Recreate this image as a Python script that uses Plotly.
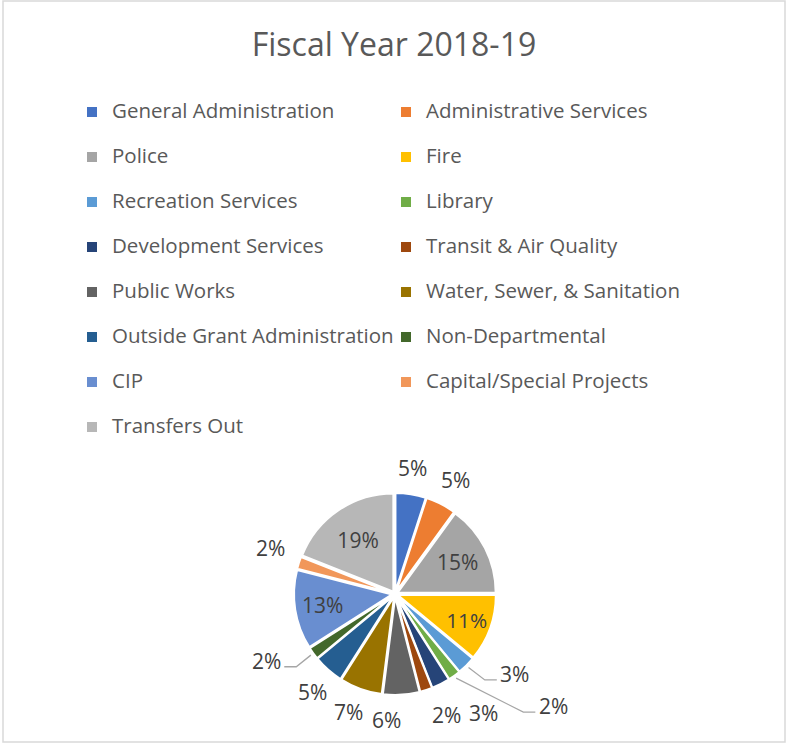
import math
import plotly.graph_objects as go

# Fiscal Year 2018-19 budget shares by department (percent)
departments = [
    "General Administration", "Administrative Services", "Police", "Fire",
    "Recreation Services", "Library", "Development Services",
    "Transit & Air Quality", "Public Works", "Water, Sewer, & Sanitation",
    "Outside Grant Administration", "Non-Departmental", "CIP",
    "Capital/Special Projects", "Transfers Out",
]
shares = [5, 5, 15, 11, 3, 2, 3, 2, 6, 7, 5, 2, 13, 2, 19]
colors = [
    "#4472C4", "#ED7D31", "#A5A5A5", "#FFC000", "#5B9BD5", "#70AD47",
    "#264478", "#9E480E", "#636363", "#997300", "#255E91", "#43682B",
    "#698ED0", "#F1975A", "#B7B7B7",
]

# placement of the outside labels: angular shift from the slice middle (deg),
# distance from the pie centre (px), and whether a leader line is drawn
label_shift = [-1.3, 1.2, 0, 0, -11.3, -18.7, -9.5, -5.0, 7.5, 1.5, -1.4, 8.6, 0, 2.2, 0]
label_dist = [127, 129, 0, 0, 144, 194, 148, 131, 126, 127, 128, 145, 0, 133, 0]
leader = [False, False, False, False, True, True, False, False,
          False, False, False, True, False, False, False]

W, H = 788, 744
cx, cy = 395, 594          # pie centre, px from top-left
pull = 0.03
r_dom = 101                # radius of the pie domain, px
r = r_dom / (1 + pull)

inside = [s >= 10 for s in shares]
positions = ["inside" if f else "none" for f in inside]


def px(x, y):
    return x / W, 1 - y / H


fig = go.Figure(go.Pie(
    labels=departments,
    values=shares,
    sort=False,
    direction="clockwise",
    rotation=0,
    marker=dict(colors=colors, line=dict(color="white", width=2)),
    pull=pull,
    texttemplate="%{percent:.0%}",
    textposition=positions,
    textfont=dict(family="Open Sans", size=21, color="#404040"),
    insidetextorientation="horizontal",
    domain=dict(x=[(cx - r_dom) / W, (cx + r_dom) / W],
                y=[(H - cy - r_dom) / H, (H - cy + r_dom) / H]),
    hoverinfo="label+percent",
))

# percentage labels of the small slices, placed around the rim
total = sum(shares)
annotations = []
shapes = []
cum = 0
for i, s in enumerate(shares):
    mid = (cum + s / 2) / total * 360
    cum += s
    if inside[i]:
        continue
    a = math.radians(mid + label_shift[i])
    lx = cx + label_dist[i] * math.sin(a)
    ly = cy - label_dist[i] * math.cos(a)
    x, y = px(lx, ly)
    annotations.append(dict(
        text=f"{round(s / total * 100)}%", x=x, y=y, xref="paper", yref="paper",
        showarrow=False, xanchor="center", yanchor="middle",
        font=dict(family="Open Sans", size=21, color="#404040"),
    ))
    if leader[i]:
        m = math.radians(mid)
        sx = cx + (r * (1 + pull) + 3) * math.sin(m)
        sy = cy - (r * (1 + pull) + 3) * math.cos(m)
        side = 1 if lx > cx else -1
        ex, ey = lx - side * 18, ly + 6
        bx = ex - side * 12
        pts = [px(sx, sy), px(bx, ey), px(ex, ey)]
        path = "M{},{} L{},{} L{},{}".format(*[c for p in pts for c in p])
        shapes.append(dict(type="path", path=path, xref="paper", yref="paper",
                           line=dict(color="#A6A6A6", width=1.3)))

# chart frame
shapes.append(dict(type="rect", xref="paper", yref="paper",
                   x0=3 / W, x1=785 / W, y0=1 - 742 / H, y1=1 - 1 / H,
                   line=dict(color="#D9D9D9", width=1.5)))

# legend entries: visible name on the first line, empty second line for row spacing
fig.data[0].labels = [f'<span style="font-size:20.5px">{d}</span><br> ' for d in departments]

fig.update_layout(
    width=W, height=H,
    margin=dict(l=0, r=0, t=0, b=0, autoexpand=False),
    paper_bgcolor="white",
    title=dict(text="Fiscal Year 2018-19", x=0.5, xanchor="center",
               y=1 - 45 / H, yanchor="middle",
               font=dict(family="Open Sans", size=32, color="#595959")),
    legend=dict(
        orientation="h",
        x=72 / W, xanchor="left",
        y=1 - 95 / H, yanchor="top",
        entrywidth=269, entrywidthmode="pixels",
        maxheight=1,
        valign="top",
        font=dict(family="Open Sans", size=16.15, color="#595959"),
        traceorder="normal",
    ),
    annotations=annotations,
    shapes=shapes,
)

fig.write_html("out.html")
